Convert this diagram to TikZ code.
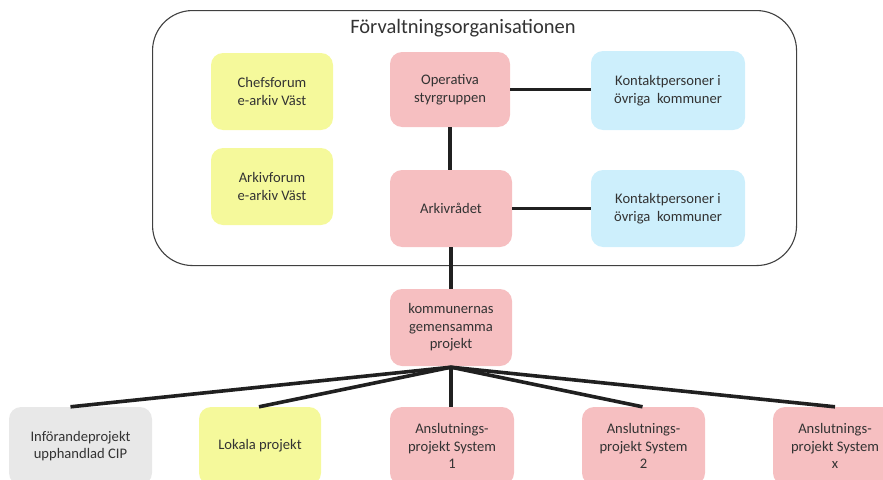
\documentclass[tikz,border=0pt]{standalone}
\usepackage{fontspec}
\setmainfont{Carlito}
\usetikzlibrary{calc}
\definecolor{boxyellow}{HTML}{F5F99B}
\definecolor{boxpink}{HTML}{F6BFC1}
\definecolor{boxblue}{HTML}{CDEFFC}
\definecolor{boxgrey}{HTML}{E8E8E8}
\definecolor{txt}{HTML}{333333}
\definecolor{conn}{HTML}{202020}
\tikzset{
  orgbox/.style={rounded corners=12pt, inner sep=2pt, align=center, text=txt,
    font=\fontsize{14.6}{17.5}\selectfont},
  ybox/.style={orgbox, fill=boxyellow},
  pbox/.style={orgbox, fill=boxpink},
  bbox/.style={orgbox, fill=boxblue},
  gbox/.style={orgbox, fill=boxgrey},
  link/.style={draw=conn, line width=3.6pt},
}
\begin{document}
\begin{tikzpicture}[x=1pt,y=-1pt]
\useasboundingbox (0,0) rectangle (883,479);
\clip (0,0) rectangle (883,479);
% container
\node[draw=black!75, line width=1.1pt, rounded corners=40pt, minimum width=644pt, minimum height=255pt, anchor=north west] (cont) at (152,10) {};
\node[text=txt, font=\fontsize{20.5}{24}\selectfont] (title) at (463,28) {Förvaltningsorganisationen};
% upper nodes
\node[ybox, minimum width=122pt, minimum height=77pt] (chef) at (272,91.5) {Chefsforum\\e-arkiv Väst};
\node[ybox, minimum width=122pt, minimum height=77pt] (arkf) at (272,186.5) {Arkivforum\\e-arkiv Väst};
\node[pbox, minimum width=120pt, minimum height=75pt] (oper) at (450,89.5) {Operativa\\styrgruppen};
\node[pbox, minimum width=122pt, minimum height=77pt] (arkr) at (451,208.5) {Arkivrådet};
\node[bbox, minimum width=154pt, minimum height=79pt] (kon1) at (668,90.5) {Kontaktpersoner i\\övriga\ \ kommuner};
\node[bbox, minimum width=154pt, minimum height=77pt] (kon2) at (668,208.5) {Kontaktpersoner i\\övriga\ \ kommuner};
\node[pbox, minimum width=122pt, minimum height=77pt] (komm) at (451,327.5) {kommunernas\\gemensamma\\projekt};
% bottom nodes
\node[gbox, minimum width=143pt, minimum height=78pt] (inf) at (80.5,446) {Införandeprojekt\\upphandlad CIP};
\node[ybox, minimum width=122pt, minimum height=78pt] (lok) at (260,446) {Lokala projekt};
\node[pbox, minimum width=124pt, minimum height=78pt] (an1) at (452,446) {Anslutnings-\\projekt System\\1};
\node[pbox, minimum width=123pt, minimum height=78pt] (an2) at (643.5,446) {Anslutnings-\\projekt System\\2};
\node[pbox, minimum width=124pt, minimum height=78pt] (anx) at (835,446) {Anslutnings-\\projekt System\\x};
% connectors
\draw[link] (oper.east) -- (kon1.west |- oper.east);
\draw[link] (arkr.east) -- (kon2.west);
\draw[link] (oper.south) -- (oper.south |- arkr.north);
\draw[link] (arkr.south) -- (arkr.south |- komm.north);
\coordinate (hub) at ($(komm.south)+(0,1)$);
\draw[link] (hub) -- ($(inf.north)+(-10,0)$);
\draw[link] (hub) -- ($(lok.north)+(-1,0)$);
\draw[link] (hub) -- (hub |- an1.north);
\draw[link] (hub) -- ($(an2.north)+(-1,0)$);
\draw[link] (hub) -- (anx.north);
\end{tikzpicture}
\end{document}
